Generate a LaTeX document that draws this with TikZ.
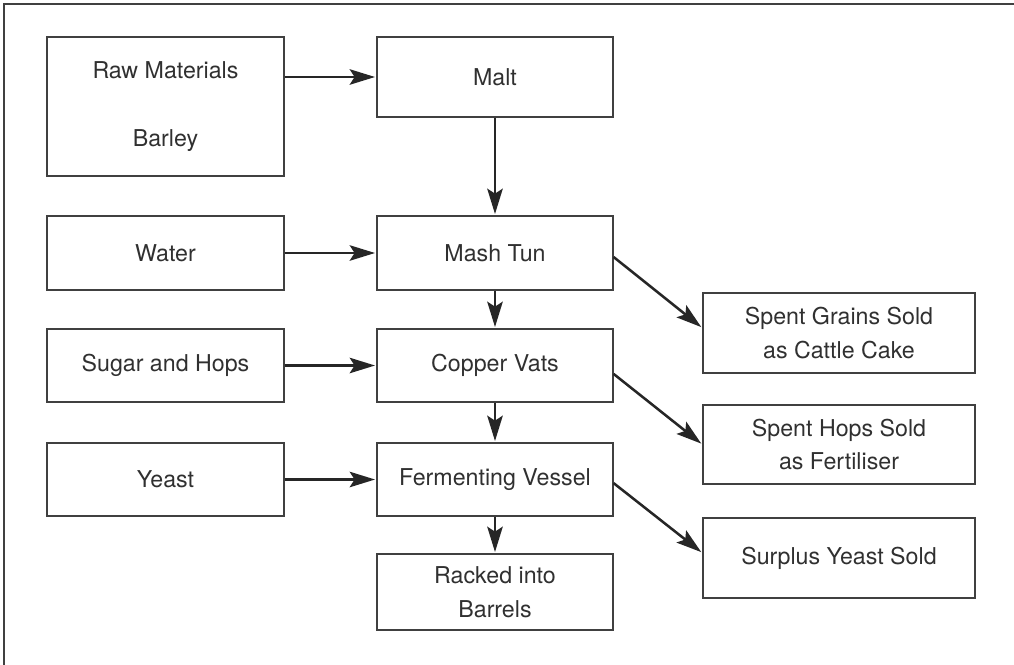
\documentclass[tikz,border=0pt]{standalone}
\usepackage{fontspec}
\setmainfont{TeX Gyre Heros}
\usetikzlibrary{arrows.meta}
\definecolor{boxline}{HTML}{404040}
\definecolor{txt}{HTML}{303030}
\begin{document}
\begin{tikzpicture}[x=0.025cm,y=-0.025cm,
	stage/.style={draw=boxline,line width=0.8pt,inner sep=0pt,align=center,text=txt,font=\fontsize{16.5}{24}\selectfont},
	flow/.style={-{Stealth[length=18pt,width=11pt,inset=3.5pt]},line width=1.8pt,draw=black!85,shorten >=1pt}]
		\useasboundingbox (0,0) rectangle (1014,665);
		\draw[boxline,line width=1pt] (4,665) -- (4,4) -- (1014,4);
		% inputs
		\node[stage,minimum width=5.925cm,minimum height=3.475cm] (raw) at (165.5,106.5) {Raw Materials\\[0.85cm]Barley};
		\node[stage,minimum width=5.925cm,minimum height=1.85cm] (water) at (165.5,253) {Water};
		\node[stage,minimum width=5.925cm,minimum height=1.825cm] (sugar) at (165.5,365.5) {Sugar and Hops};
		\node[stage,minimum width=5.925cm,minimum height=1.825cm] (yeast) at (165.5,479.5) {Yeast};
		% process
		\node[stage,minimum width=5.9cm,minimum height=2cm] (malt) at (495,77) {Malt};
		\node[stage,minimum width=5.9cm,minimum height=1.85cm] (mash) at (495,253) {Mash Tun};
		\node[stage,minimum width=5.9cm,minimum height=1.825cm] (copper) at (495,365.5) {Copper Vats};
		\node[stage,minimum width=5.9cm,minimum height=1.825cm] (ferment) at (495,479.5) {Fermenting Vessel};
		\node[stage,minimum width=5.9cm,minimum height=1.9cm] (barrels) at (495,592) {Racked into\\Barrels};
		% by-products
		\node[stage,minimum width=6.8cm,minimum height=2cm] (grains) at (839,333) {Spent Grains Sold\\as Cattle Cake};
		\node[stage,minimum width=6.8cm,minimum height=1.975cm] (hops) at (839,444.5) {Spent Hops Sold\\as Fertiliser};
		\node[stage,minimum width=6.8cm,minimum height=2cm] (surplus) at (839,558) {Surplus Yeast Sold};
		\draw[flow] (raw.east |- malt.west) -- (malt.west);
		\draw[flow] (malt) -- (mash);
		\draw[flow] (water) -- (mash);
		\draw[flow] (mash) -- (copper);
		\draw[flow] (sugar) -- (copper);
		\draw[flow] (copper) -- (ferment);
		\draw[flow] (yeast) -- (ferment);
		\draw[flow] (ferment) -- (barrels);
		\draw[flow] ([yshift=-0.1cm]mash.east) -- ([yshift=0.125cm]grains.west);
		\draw[flow] ([yshift=-0.21cm]copper.east) -- (hops.west);
		\draw[flow] ([yshift=-0.09cm]ferment.east) -- ([yshift=0.125cm]surplus.west);
\end{tikzpicture}
\end{document}
